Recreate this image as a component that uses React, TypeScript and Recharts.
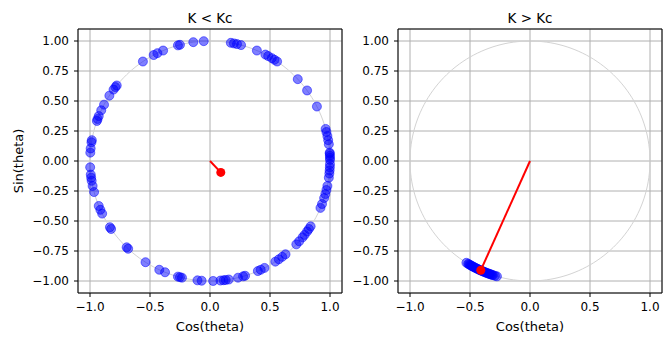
import React from "react";
import {
  CartesianGrid,
  ReferenceArea,
  Scatter,
  ScatterChart,
  XAxis,
  YAxis,
} from "recharts";

// phase angles of the oscillators, in degrees
const phasesBelow = [
  0.5, 1.5, 2.5, 3.5, 4, 8, 10, 12, 14, 15.5, 27, 36, 43, 56, 57.5, 59, 61, 62.5, 67, 75, 77,
  78.5, 80, 93, 98, 104.5, 105.5, 113, 116, 118, 124, 141, 142, 143.5, 147, 152, 155, 158,
  159.5, 160.5, 170, 171, 174, 176, 183, 186.5, 188, 189.5, 192, 195, 202, 204, 206, 213.5,
  214.5, 226, 227, 237.5, 245, 248, 254.5, 255.5, 256.5, 264, 266, 271.5, 275, 276.5, 277.5,
  279, 283.5, 286, 287, 293.5, 295, 297, 303, 305, 307, 309, 316, 318, 320.5, 322, 324, 325.5,
  327, 337, 339, 342, 344, 346, 348, 352, 354, 355.5, 357, 358.5,
];
const phasesAbove = [
  238, 239, 239.5, 240, 240.5, 241, 241.5, 242, 242.5, 243, 243.5, 244, 244.5, 245, 245.5, 246,
  246.5, 247, 247.5, 248, 248.5, 249, 249.5, 250, 250.5, 251, 251.5, 252, 253, 254,
];

// order parameter (mean field) for each case
const orderBelow = { x: 0.09, y: -0.095 };
const orderAbove = { x: -0.41, y: -0.91 };

const xTicks = [-1, -0.5, 0, 0.5, 1];
const yTicks = [-1, -0.75, -0.5, -0.25, 0, 0.25, 0.5, 0.75, 1];

const FONT = '"DejaVu Sans", "Liberation Sans", sans-serif';

const toPoints = (deg: number[]) =>
  deg.map((d) => ({ x: Math.cos((d * Math.PI) / 180), y: Math.sin((d * Math.PI) / 180) }));

// unit circle guide
const circle = Array.from({ length: 181 }, (_, i) => {
  const t = (i / 180) * 2 * Math.PI;
  return { x: Math.cos(t), y: Math.sin(t) };
});

const fmt = (v: number, digits: number) => v.toFixed(digits).replace("-", "\u2212");

const Nothing = () => <g />;

const Osc = (p: any) => (
  <circle
    cx={p.cx}
    cy={p.cy}
    r={4.5}
    fill="blue"
    fillOpacity={0.5}
    stroke="blue"
    strokeOpacity={0.5}
    strokeWidth={1}
  />
);

const RedDot = (p: any) => <circle cx={p.cx} cy={p.cy} r={4.5} fill="red" />;

interface PanelProps {
  phases: number[];
  order: { x: number; y: number };
  width: number;
  yAxisWidth: number;
  right: number;
}

function Panel({ phases, order, width, yAxisWidth, right }: PanelProps) {
  const tick = { fill: "#000", fontSize: 12, fontFamily: FONT };
  return (
    <ScatterChart width={width} height={343} margin={{ top: 29, right, bottom: 0, left: 0 }}>
      <CartesianGrid stroke="#b0b0b0" strokeWidth={1} />
      <XAxis
        type="number"
        dataKey="x"
        domain={[-1.1, 1.1]}
        ticks={xTicks}
        allowDataOverflow
        axisLine={false}
        tickLine={{ stroke: "#000" }}
        tickSize={4}
        tickMargin={5}
        tick={tick}
        tickFormatter={(v: number) => fmt(v, 1)}
        height={50}
        label={{
          value: "Cos(theta)",
          position: "insideBottom",
          offset: 12,
          fill: "#000",
          fontSize: 13,
          fontFamily: FONT,
        }}
      />
      <YAxis
        type="number"
        dataKey="y"
        domain={[-1.1, 1.1]}
        ticks={yTicks}
        allowDataOverflow
        axisLine={false}
        tickLine={{ stroke: "#000" }}
        tickSize={4}
        tickMargin={5}
        tick={tick}
        tickFormatter={(v: number) => fmt(v, 2)}
        width={yAxisWidth}
      />
      <Scatter
        data={circle}
        line={{ stroke: "#d3d3d3", strokeWidth: 1 }}
        lineType="joint"
        shape={Nothing}
        isAnimationActive={false}
      />
      <Scatter data={toPoints(phases)} shape={Osc} isAnimationActive={false} />
      <Scatter
        data={[{ x: 0, y: 0 }, order]}
        line={{ stroke: "red", strokeWidth: 2 }}
        lineType="joint"
        shape={Nothing}
        isAnimationActive={false}
      />
      <Scatter data={[order]} shape={RedDot} isAnimationActive={false} />
      <ReferenceArea
        x1={-1.1}
        x2={1.1}
        y1={-1.1}
        y2={1.1}
        fill="none"
        stroke="#000"
        strokeWidth={1}
        ifOverflow="visible"
      />
    </ScatterChart>
  );
}

export default function App() {
  return (
    <div
      style={{
        position: "fixed",
        left: 0,
        top: 0,
        width: 671,
        height: 343,
        background: "#fff",
        fontFamily: FONT,
      }}
    >
      <div style={{ position: "absolute", left: 0, top: 0 }}>
        <Panel phases={phasesBelow} order={orderBelow} width={350} yAxisWidth={78} right={8} />
      </div>
      <div style={{ position: "absolute", left: 350, top: 0 }}>
        <Panel phases={phasesAbove} order={orderAbove} width={321} yAxisWidth={48} right={9} />
      </div>
      <svg
        width={671}
        height={343}
        style={{ position: "absolute", left: 0, top: 0, pointerEvents: "none" }}
      >
        <text x={210} y={22.5} textAnchor="middle" fontSize={13.5} fontFamily={FONT} fill="#000">
          K &lt; Kc
        </text>
        <text x={530} y={22.5} textAnchor="middle" fontSize={13.5} fontFamily={FONT} fill="#000">
          K &gt; Kc
        </text>
        <text
          x={23}
          y={161}
          transform="rotate(-90 23 161)"
          textAnchor="middle"
          fontSize={13}
          fontFamily={FONT}
          fill="#000"
        >
          Sin(theta)
        </text>
      </svg>
    </div>
  );
}
